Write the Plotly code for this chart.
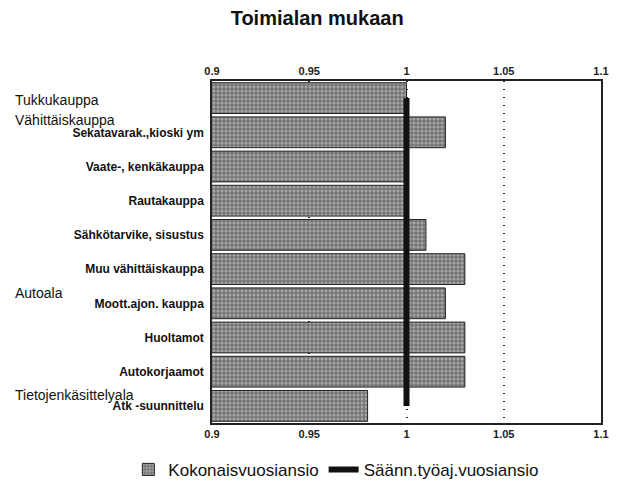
import plotly.graph_objects as go

# Categories (top to bottom) and values
rivit = ["tukku", "Sekatavarak.,kioski ym", "Vaate-, kenkäkauppa", "Rautakauppa",
         "Sähkötarvike, sisustus", "Muu vähittäiskauppa", "Moott.ajon. kauppa",
         "Huoltamot", "Autokorjaamot", "Atk -suunnittelu"]
tick_tekstit = ["", "Sekatavarak.,kioski ym", "Vaate-, kenkäkauppa", "Rautakauppa",
                "Sähkötarvike, sisustus", "Muu vähittäiskauppa", "Moott.ajon. kauppa",
                "Huoltamot", "Autokorjaamot", "Atk -suunnittelu"]
kokonais = [1.0, 1.02, 1.0, 1.0, 1.01, 1.03, 1.02, 1.03, 1.03, 0.98]
saann = [1.0, 1.0, 1.0, 1.0, 1.0, 1.0, 1.0, 1.0, 1.0, 1.0]

# Group headings and the row they sit on
ryhmat = ["Tukkukauppa", "Vähittäiskauppa", "Autoala", "Tietojenkäsittelyala"]
ryhma_rivi = ["tukku", "Sekatavarak.,kioski ym", "Moott.ajon. kauppa", "Atk -suunnittelu"]
ryhma_siirto = [-2, 12, 10, 11]

x_ticks = [0.9, 0.95, 1.0, 1.05, 1.1]
x_labels = ["0.9", "0.95", "1", "1.05", "1.1"]

fig = go.Figure()

fig.add_trace(go.Bar(
    y=rivit, x=kokonais, orientation="h", name="Kokonaisvuosiansio",
    marker=dict(
        color="#9a9a9a",
        line=dict(color="#222", width=1),
        pattern=dict(shape=".", fgcolor="#d8d8d8", bgcolor="#747474", size=4, solidity=0.45),
    ),
))

fig.add_trace(go.Scatter(
    y=rivit, x=saann, mode="lines", name="Säänn.työaj.vuosiansio",
    line=dict(color="#111", width=6),
))

# invisible trace to draw the top axis
fig.add_trace(go.Scatter(
    x=[0.9, 1.1], y=[rivit[0], rivit[0]], xaxis="x2", mode="markers",
    marker=dict(opacity=0), showlegend=False, hoverinfo="skip",
))

for nimi, rivi, siirto in zip(ryhmat, ryhma_rivi, ryhma_siirto):
    fig.add_annotation(
        x=0, xref="paper", xshift=-199, xanchor="left",
        y=rivi, yref="y", yshift=siirto,
        text=nimi, showarrow=False, font=dict(size=14, color="#111"),
    )

akseli = dict(
    range=[0.9, 1.1], tickvals=x_ticks, ticktext=x_labels,
    showgrid=True, griddash="1px,7px", gridcolor="#222", gridwidth=1.5,
    showline=True, linecolor="#222", linewidth=1.5,
    ticks="", zeroline=False, automargin=False,
    tickfont=dict(size=11, color="#222", weight="bold"),
)

# the page body has an 8px margin, so the figure is 8px smaller than the window
fig.update_layout(
    width=611, height=479,
    margin=dict(l=204, r=18, t=73, b=64, autoexpand=False),
    paper_bgcolor="white", plot_bgcolor="white",
    font=dict(family="Liberation Sans, Arial, sans-serif", color="#111"),
    title=dict(text="<b>Toimialan mukaan</b>", x=0.506, xanchor="center",
               y=0.979, yanchor="middle", font=dict(size=20, color="#111")),
    bargap=0.1,
    xaxis=dict(**akseli, side="bottom", mirror=True),
    xaxis2=dict(**akseli, side="top", overlaying="x", matches="x"),
    yaxis=dict(
        categoryorder="array", categoryarray=rivit[::-1],
        tickvals=rivit, ticktext=tick_tekstit,
        autorange=False, range=[-0.5, len(rivit) - 0.5],
        showline=True, linecolor="#222", linewidth=1.5, mirror=True,
        ticks="outside", ticklen=4, tickcolor="white", showgrid=False, automargin=False,
        tickfont=dict(size=12, color="#111", weight="bold"),
    ),
    legend=dict(
        orientation="h", x=-0.215, xanchor="left", y=-0.137, yanchor="middle",
        font=dict(size=17, color="#111"), itemwidth=30,
    ),
    showlegend=True,
)

fig.write_html("out.html")
